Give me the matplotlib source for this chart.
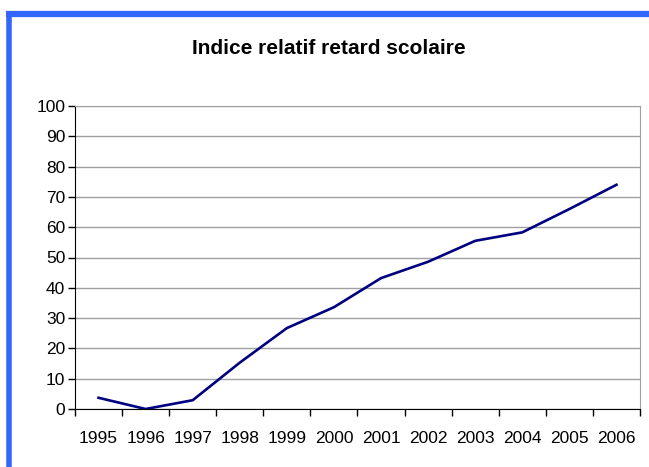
import matplotlib
matplotlib.use("Agg")
import matplotlib.pyplot as plt
from matplotlib.lines import Line2D

# donnees
annees = ['1995', '1996', '1997', '1998', '1999', '2000',
          '2001', '2002', '2003', '2004', '2005', '2006']
indice = [3.7, 0.0, 2.9, 15.3, 26.7, 33.6, 43.2, 48.6, 55.5, 58.3, 66.0, 74.0]
yticks = list(range(0, 101, 10))

plt.rcParams['font.family'] = ['Liberation Sans', 'DejaVu Sans']

fig = plt.figure(figsize=(6.49, 4.67), dpi=100)
ax = fig.add_axes([75/649, 1 - 409/467, 565/649, 303/467])

x = list(range(len(annees)))
ax.plot(x, indice, color='#000080', lw=1.9, solid_joinstyle='miter')

ax.set_xlim(-0.5, len(annees) - 0.5)
ax.set_ylim(0, 100)
ax.set_yticks(yticks)
ax.set_yticklabels([str(v) for v in yticks], fontsize=12.5)
ax.set_xticks(x)
ax.set_xticklabels(annees, fontsize=12.5)
ax.set_xticks([i - 0.5 for i in range(len(annees) + 1)], minor=True)
ax.tick_params(axis='x', which='major', length=0, pad=15.5)
ax.tick_params(axis='x', which='minor', length=5, width=1, color='black', direction='out')
ax.tick_params(axis='y', length=5, width=1, color='black', direction='out', pad=2)

ax.grid(axis='y', color='#a0a0a0', lw=1)
ax.set_axisbelow(True)
for s in ['top', 'right']:
    ax.spines[s].set_color('#a0a0a0')
ax.spines['left'].set_color('black')
ax.spines['bottom'].set_color('black')

fig.text(329/649, 1 - 48/467, 'Indice relatif retard scolaire', ha='center', va='center',
         fontsize=15, fontweight='bold')

# cadre bleu (haut et gauche)
bleu = '#3366ff'
fig.add_artist(Line2D([6/649, 1], [1 - 14/467, 1 - 14/467], color=bleu, lw=4.5,
                      transform=fig.transFigure, solid_capstyle='butt'))
fig.add_artist(Line2D([8.5/649, 8.5/649], [0, 1 - 11.5/467], color=bleu, lw=4,
                      transform=fig.transFigure, solid_capstyle='butt'))

fig.savefig('out.png', dpi=100)
